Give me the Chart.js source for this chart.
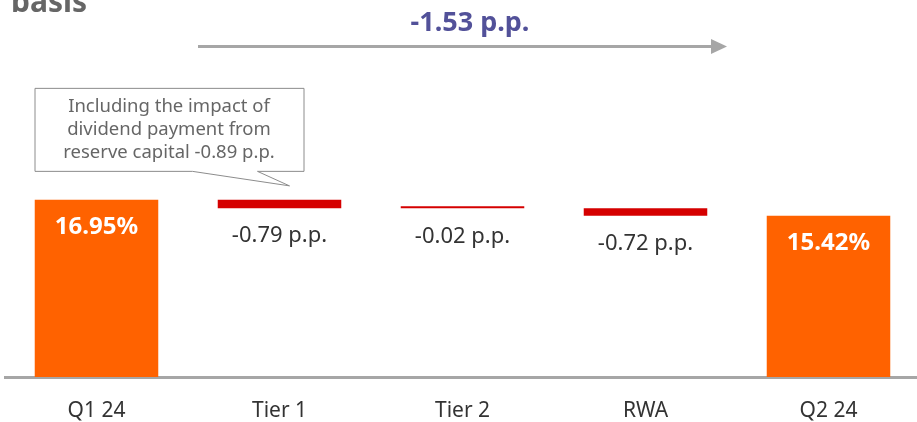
<!DOCTYPE html>
<html><head><meta charset="utf-8">
<script src="https://cdn.jsdelivr.net/npm/chart.js@4.4.1/dist/chart.umd.min.js"></script>
<style>
html,body{margin:0;padding:0;background:#fff;overflow:hidden;width:917px;height:422px}
#wrap{width:920px;height:422px;position:relative}
</style>
</head><body><div id="wrap"><canvas id="c" width="920" height="422"></canvas></div>
<script>
const categories = ['Q1 24', 'Tier 1', 'Tier 2', 'RWA', 'Q2 24'];
const values = [16.95, -0.79, -0.02, -0.72, 15.42];
const isTotal = [true, false, false, false, true];
const totalChange = -1.53;
const titleText = 'basis';
const calloutLines = ['Including the impact of', 'dividend payment from', 'reserve capital -0.89 p.p.'];

const FONT = '"Noto Sans", "DejaVu Sans", sans-serif';
const ORANGE = '#ff6200', RED = '#d50000', GREY = '#a6a6a6', TXT = '#333333', INDIGO = '#525199';

let running = 0;
const ranges = [];
values.forEach((v, i) => {
  if (isTotal[i]) { ranges.push([0, v]); running = v; }
  else { const s = running; running = +(running + v).toFixed(2); ranges.push([running, s]); }
});
const barLabels = values.map((v, i) => isTotal[i] ? v.toFixed(2) + '%' : v.toFixed(2) + ' p.p.');

const overlay = {
  id: 'overlay',
  afterDatasetsDraw(chart) {
    const ctx = chart.ctx;
    const meta = chart.getDatasetMeta(0);
    ctx.save();
    ctx.textAlign = 'center';
    ctx.textBaseline = 'middle';
    meta.data.forEach((el, i) => {
      const top = Math.min(el.y, el.base), bot = Math.max(el.y, el.base);
      if (isTotal[i]) {
        ctx.fillStyle = '#ffffff';
        ctx.font = 'bold 24px ' + FONT;
        ctx.fillText(barLabels[i], el.x, top + 27);
      } else {
        ctx.fillStyle = TXT;
        ctx.font = '22px ' + FONT;
        ctx.fillText(barLabels[i], el.x, bot + 28);
      }
    });
    ctx.restore();
  },
  afterDraw(chart) {
    const ctx = chart.ctx;
    const meta = chart.getDatasetMeta(0);
    ctx.save();
    // cut-off title
    ctx.fillStyle = '#666666';
    ctx.font = 'bold 30px ' + FONT;
    ctx.textAlign = 'left';
    ctx.textBaseline = 'alphabetic';
    ctx.fillText(titleText, 11, 12);

    // total change arrow
    ctx.strokeStyle = GREY;
    ctx.lineWidth = 3;
    ctx.beginPath();
    ctx.moveTo(198, 46.5);
    ctx.lineTo(713, 46.5);
    ctx.stroke();
    ctx.fillStyle = GREY;
    ctx.beginPath();
    ctx.moveTo(711, 39);
    ctx.lineTo(727, 46.5);
    ctx.lineTo(711, 54);
    ctx.closePath();
    ctx.fill();

    ctx.fillStyle = INDIGO;
    ctx.font = 'bold 27px ' + FONT;
    ctx.textAlign = 'center';
    ctx.textBaseline = 'middle';
    ctx.fillText(totalChange.toFixed(2) + ' p.p.', 470, 23);

    // callout anchored to Tier 1 bar
    const el = meta.data[1];
    const tipX = el.x + 10, tipY = Math.min(el.y, el.base) - 14;
    const bx = tipX - 255, by = tipY - 98, bw = 269, bh = 83;
    ctx.strokeStyle = '#8c8c8c';
    ctx.lineWidth = 1;
    ctx.fillStyle = '#ffffff';
    ctx.beginPath();
    ctx.moveTo(bx + 0.5, by + 0.5);
    ctx.lineTo(bx + bw + 0.5, by + 0.5);
    ctx.lineTo(bx + bw + 0.5, by + bh + 0.5);
    ctx.lineTo(tipX - 32, by + bh + 0.5);
    ctx.lineTo(tipX, tipY);
    ctx.lineTo(tipX - 97, by + bh + 0.5);
    ctx.lineTo(bx + 0.5, by + bh + 0.5);
    ctx.closePath();
    ctx.fill();
    ctx.stroke();

    ctx.fillStyle = '#666666';
    ctx.font = '18.5px ' + FONT;
    ctx.textAlign = 'center';
    ctx.textBaseline = 'middle';
    calloutLines.forEach((t, i) => ctx.fillText(t, bx + bw / 2, by + 19 + i * 23));
    ctx.restore();
  }
};

new Chart(document.getElementById('c'), {
  type: 'bar',
  data: {
    labels: categories,
    datasets: [{
      data: ranges,
      backgroundColor: values.map((v, i) => isTotal[i] ? ORANGE : RED),
      borderWidth: 0,
      borderSkipped: false,
      barPercentage: 0.675,
      categoryPercentage: 1,
      minBarLength: 2
    }]
  },
  options: {
    responsive: false,
    animation: false,
    layout: { padding: { left: 5, right: 0, top: 168, bottom: 1 } },
    plugins: { legend: { display: false }, tooltip: { enabled: false } },
    scales: {
      x: {
        grid: { display: false, drawTicks: false },
        border: { display: true, color: GREY, width: 3 },
        ticks: { color: TXT, font: { family: FONT, size: 21 }, padding: 21 },
        afterFit(scale) { scale.height = 44; }
      },
      y: { display: false, min: 0, max: 20 }
    }
  },
  plugins: [overlay]
});
</script>
</body></html>
